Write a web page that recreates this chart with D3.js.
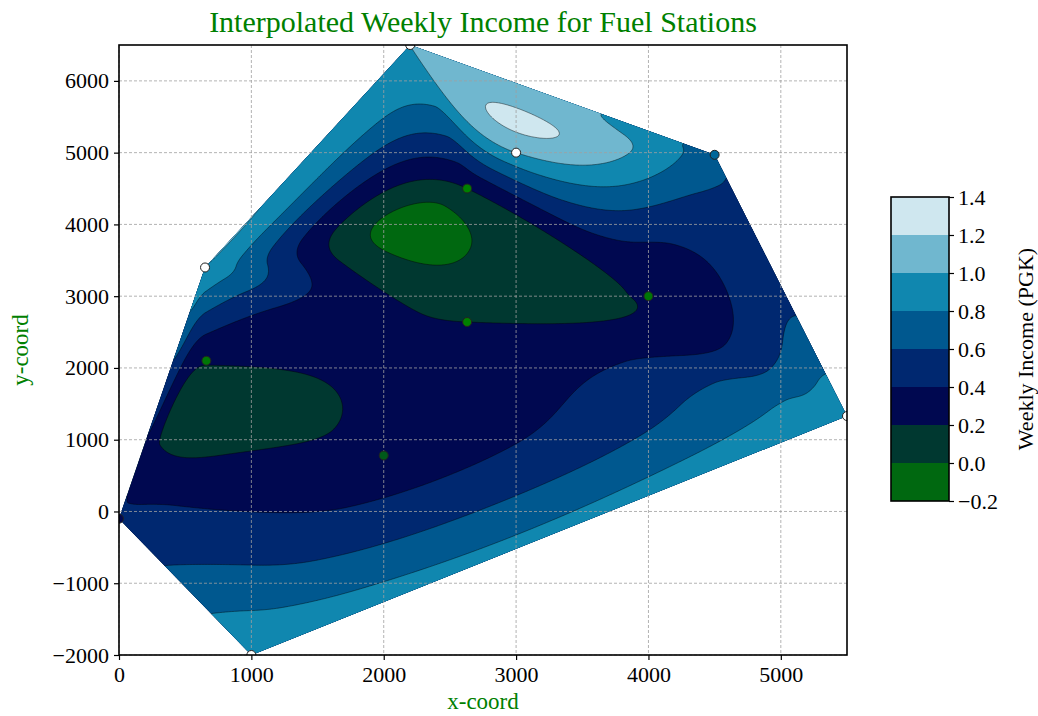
<!DOCTYPE html>
<html>
<head>
<meta charset="utf-8">
<script src="https://cdn.jsdelivr.net/npm/d3@7"></script>
<style>
  body { margin: 0; background: #fff; }
  text { font-family: "Liberation Serif", "Times New Roman", serif; }
</style>
</head>
<body>
<svg id="chart" width="1038" height="716"></svg>
<script>
// Fuel station locations and their weekly income
const stationX = [0, 1000, 650, 660, 2200, 3000, 4500, 5500, 2630, 2630, 4000, 2000];
const stationY = [-100, -2000, 3400, 2100, 6500, 5000, 4970, 1330, 4500, 2640, 3000, 780];
const stationIncome = [0.45, 1.0, 1.0, 0.22, 1.0, 1.0, 0.68, 1.0, 0.2, 0.2, 0.22, 0.28];

// Filled contour levels and axis ticks
const levels = [-0.2, 0.0, 0.2, 0.4, 0.6, 0.8, 1.0, 1.2, 1.4];
const xTicks = [0, 1000, 2000, 3000, 4000, 5000];
const yTicks = [-2000, -1000, 0, 1000, 2000, 3000, 4000, 5000, 6000];
const cbTicks = [-0.2, 0.0, 0.2, 0.4, 0.6, 0.8, 1.0, 1.2, 1.4];

const svg = d3.select("#chart");
const plot = { left: 119, right: 847, top: 45, bottom: 655 };
const x = d3.scaleLinear().domain([0, 5500]).range([plot.left, plot.right]);
const y = d3.scaleLinear().domain([-2000, 6500]).range([plot.bottom, plot.top]);
const fmtMinus = v => String(v).replace("-", "\u2212");

// "ocean" colour map
function ocean(t) {
  t = Math.max(0, Math.min(1, t));
  const c = v => Math.round(255 * Math.max(0, Math.min(1, v)));
  return `rgb(${c(3 * t - 2)},${c(Math.abs((3 * t - 1) / 2))},${c(t)})`;
}
const lvMin = levels[0], lvMax = levels[levels.length - 1];
const bandColor = i => ocean(((levels[i] + levels[i + 1]) / 2 - lvMin) / (lvMax - lvMin));

// ---------- Clough–Tocher cubic interpolation on the Delaunay triangulation ----------
const pts = stationX.map((v, i) => [v, stationY[i]]);
const vals = stationIncome;
const n = pts.length;
const delaunay = d3.Delaunay.from(pts);
const tris = delaunay.triangles, half = delaunay.halfedges;
const nTri = tris.length / 3;
const nbrs = pts.map((_, i) => Array.from(delaunay.neighbors(i)));

// global gradient estimate (minimum curvature, Gauss–Seidel sweeps)
const grad = pts.map(() => [0, 0]);
for (let it = 0; it < 400; it++) {
  let err = 0;
  for (let i = 0; i < n; i++) {
    let q0 = 0, q1 = 0, q3 = 0, s0 = 0, s1 = 0;
    for (const j of nbrs[i]) {
      const ex = pts[j][0] - pts[i][0], ey = pts[j][1] - pts[i][1];
      const L = Math.hypot(ex, ey), L3 = L * L * L;
      const df2 = -ex * grad[j][0] - ey * grad[j][1];
      const k = 6 * (vals[i] - vals[j]) - 2 * df2;
      q0 += 4 * ex * ex / L3; q1 += 4 * ex * ey / L3; q3 += 4 * ey * ey / L3;
      s0 += k * ex / L3; s1 += k * ey / L3;
    }
    const det = q0 * q3 - q1 * q1;
    const r0 = (q3 * s0 - q1 * s1) / det, r1 = (-q1 * s0 + q0 * s1) / det;
    let change = Math.max(Math.abs(grad[i][0] + r0), Math.abs(grad[i][1] + r1));
    grad[i][0] = -r0; grad[i][1] = -r1;
    change /= Math.max(1, Math.max(Math.abs(r0), Math.abs(r1)));
    err = Math.max(err, change);
  }
  if (err < 1e-6) break;
}

function bary(t, px, py) {
  const a = pts[tris[3 * t]], b = pts[tris[3 * t + 1]], c = pts[tris[3 * t + 2]];
  const det = (b[0] - a[0]) * (c[1] - a[1]) - (c[0] - a[0]) * (b[1] - a[1]);
  const l1 = ((px - a[0]) * (c[1] - a[1]) - (c[0] - a[0]) * (py - a[1])) / det;
  const l2 = ((b[0] - a[0]) * (py - a[1]) - (px - a[0]) * (b[1] - a[1])) / det;
  return [1 - l1 - l2, l1, l2];
}

const coef = [];
for (let t = 0; t < nTri; t++) {
  const v = [tris[3 * t], tris[3 * t + 1], tris[3 * t + 2]];
  const P0 = pts[v[0]], P1 = pts[v[1]], P2 = pts[v[2]];
  const e12x = P1[0] - P0[0], e12y = P1[1] - P0[1];
  const e23x = P2[0] - P1[0], e23y = P2[1] - P1[1];
  const e31x = P0[0] - P2[0], e31y = P0[1] - P2[1];
  const f1 = vals[v[0]], f2 = vals[v[1]], f3 = vals[v[2]];
  const g0 = grad[v[0]], g1 = grad[v[1]], g2 = grad[v[2]];
  const df12 = g0[0] * e12x + g0[1] * e12y;
  const df21 = -(g1[0] * e12x + g1[1] * e12y);
  const df23 = g1[0] * e23x + g1[1] * e23y;
  const df32 = -(g2[0] * e23x + g2[1] * e23y);
  const df31 = g2[0] * e31x + g2[1] * e31y;
  const df13 = -(g0[0] * e31x + g0[1] * e31y);
  const C = {};
  C.c3000 = f1; C.c2100 = (df12 + 3 * f1) / 3; C.c2010 = (df13 + 3 * f1) / 3;
  C.c0300 = f2; C.c1200 = (df21 + 3 * f2) / 3; C.c0210 = (df23 + 3 * f2) / 3;
  C.c0030 = f3; C.c1020 = (df31 + 3 * f3) / 3; C.c0120 = (df32 + 3 * f3) / 3;
  C.c2001 = (C.c2100 + C.c2010 + C.c3000) / 3;
  C.c0201 = (C.c1200 + C.c0300 + C.c0210) / 3;
  C.c0021 = (C.c1020 + C.c0120 + C.c0030) / 3;
  const g = [0, 0, 0];
  for (let k = 0; k < 3; k++) {
    const h = half[3 * t + (k + 1) % 3];
    if (h < 0) { g[k] = -0.5; continue; }
    const u = Math.floor(h / 3);
    const cx = (pts[tris[3 * u]][0] + pts[tris[3 * u + 1]][0] + pts[tris[3 * u + 2]][0]) / 3;
    const cy = (pts[tris[3 * u]][1] + pts[tris[3 * u + 1]][1] + pts[tris[3 * u + 2]][1]) / 3;
    const c = bary(t, cx, cy);
    if (k === 0) g[k] = (2 * c[2] + c[1] - 1) / (2 - 3 * c[2] - 3 * c[1]);
    else if (k === 1) g[k] = (2 * c[0] + c[2] - 1) / (2 - 3 * c[0] - 3 * c[2]);
    else g[k] = (2 * c[1] + c[0] - 1) / (2 - 3 * c[1] - 3 * c[0]);
  }
  C.c0111 = (g[0] * (-C.c0300 + 3 * C.c0210 - 3 * C.c0120 + C.c0030) + (-C.c0300 + 2 * C.c0210 - C.c0120 + C.c0021 + C.c0201)) / 2;
  C.c1011 = (g[1] * (-C.c0030 + 3 * C.c1020 - 3 * C.c2010 + C.c3000) + (-C.c0030 + 2 * C.c1020 - C.c2010 + C.c2001 + C.c0021)) / 2;
  C.c1101 = (g[2] * (-C.c3000 + 3 * C.c2100 - 3 * C.c1200 + C.c0300) + (-C.c3000 + 2 * C.c2100 - C.c1200 + C.c2001 + C.c0201)) / 2;
  C.c1002 = (C.c1101 + C.c1011 + C.c2001) / 3;
  C.c0102 = (C.c1101 + C.c0111 + C.c0201) / 3;
  C.c0012 = (C.c1011 + C.c0111 + C.c0021) / 3;
  C.c0003 = (C.c1002 + C.c0102 + C.c0012) / 3;
  coef.push(C);
}

function evalTri(t, b) {
  const C = coef[t];
  const m = Math.min(b[0], b[1], b[2]);
  const b1 = b[0] - m, b2 = b[1] - m, b3 = b[2] - m, b4 = 3 * m;
  if (b[0] === m) {
    return b2 ** 3 * C.c0300 + 3 * b2 * b2 * b3 * C.c0210 + 3 * b2 * b2 * b4 * C.c0201 +
      3 * b2 * b3 * b3 * C.c0120 + 6 * b2 * b3 * b4 * C.c0111 + 3 * b2 * b4 * b4 * C.c0102 +
      b3 ** 3 * C.c0030 + 3 * b3 * b3 * b4 * C.c0021 + 3 * b3 * b4 * b4 * C.c0012 + b4 ** 3 * C.c0003;
  } else if (b[1] === m) {
    return b1 ** 3 * C.c3000 + 3 * b1 * b1 * b3 * C.c2010 + 3 * b1 * b1 * b4 * C.c2001 +
      3 * b1 * b3 * b3 * C.c1020 + 6 * b1 * b3 * b4 * C.c1011 + 3 * b1 * b4 * b4 * C.c1002 +
      b3 ** 3 * C.c0030 + 3 * b3 * b3 * b4 * C.c0021 + 3 * b3 * b4 * b4 * C.c0012 + b4 ** 3 * C.c0003;
  }
  return b1 ** 3 * C.c3000 + 3 * b1 * b1 * b2 * C.c2100 + 3 * b1 * b1 * b4 * C.c2001 +
    3 * b1 * b2 * b2 * C.c1200 + 6 * b1 * b2 * b4 * C.c1101 + 3 * b1 * b4 * b4 * C.c1002 +
    b2 ** 3 * C.c0300 + 3 * b2 * b2 * b4 * C.c0201 + 3 * b2 * b4 * b4 * C.c0102 + b4 ** 3 * C.c0003;
}

const hull = delaunay.hullPolygon();
function nearestOnHull(px, py) {
  let best = null, bd = Infinity;
  for (let i = 0; i < hull.length; i++) {
    const a = hull[i], b = hull[(i + 1) % hull.length];
    const dx = b[0] - a[0], dy = b[1] - a[1];
    let t = ((px - a[0]) * dx + (py - a[1]) * dy) / (dx * dx + dy * dy);
    t = Math.max(0, Math.min(1, t));
    const qx = a[0] + t * dx, qy = a[1] + t * dy;
    const d = (qx - px) ** 2 + (qy - py) ** 2;
    if (d < bd) { bd = d; best = [qx, qy]; }
  }
  return best;
}
function locate(px, py) {
  let bestT = -1, bestMin = -Infinity, bestB = null;
  for (let t = 0; t < nTri; t++) {
    const b = bary(t, px, py);
    const m = Math.min(b[0], b[1], b[2]);
    if (m > bestMin) { bestMin = m; bestT = t; bestB = b; }
    if (m >= 0) break;
  }
  return [bestT, bestB, bestMin];
}
function income(px, py) {
  let [t, b, m] = locate(px, py);
  if (m < -1e-9) {
    const q = nearestOnHull(px, py);
    [t, b] = locate(q[0], q[1]);
    const s = Math.max(0, b[0]) + Math.max(0, b[1]) + Math.max(0, b[2]);
    b = b.map(v => Math.max(0, v) / s);
  }
  return evalTri(t, b);
}

// ---------- sample the surface on a pixel grid ----------
const step = 1.5, pad = 3;
const gx0 = plot.left - pad * step, gy0 = plot.top - pad * step;
const nx = Math.ceil((plot.right - plot.left) / step) + 2 * pad + 1;
const ny = Math.ceil((plot.bottom - plot.top) / step) + 2 * pad + 1;
const grid = new Float64Array(nx * ny);
for (let j = 0; j < ny; j++) {
  for (let i = 0; i < nx; i++) {
    grid[j * nx + i] = income(x.invert(gx0 + i * step), y.invert(gy0 + j * step));
  }
}
const toPixel = d3.geoTransform({
  point(cx, cy) { this.stream.point(gx0 + (cx - 0.5) * step, gy0 + (cy - 0.5) * step); }
});
const pathGen = d3.geoPath(toPixel);
const contourGen = d3.contours().size([nx, ny]).thresholds(levels.slice(1, -1));
const bands = contourGen(grid);

// ---------- drawing ----------
const defs = svg.append("defs");
const hullPath = "M" + hull.map(p => [x(p[0]), y(p[1])].join(",")).join("L") + "Z";
defs.append("clipPath").attr("id", "hull-clip").append("path").attr("d", hullPath);
defs.append("clipPath").attr("id", "plot-clip")
  .append("rect").attr("x", plot.left).attr("y", plot.top)
  .attr("width", plot.right - plot.left).attr("height", plot.bottom - plot.top);

const surface = svg.append("g").attr("clip-path", "url(#hull-clip)");
surface.append("path").attr("d", hullPath).attr("fill", bandColor(0));
surface.selectAll("path.band").data(bands).join("path")
  .attr("class", "band")
  .attr("d", d => pathGen(d))
  .attr("fill", (d, i) => bandColor(i + 1));
surface.selectAll("path.iso").data(bands).join("path")
  .attr("class", "iso")
  .attr("d", d => pathGen(d))
  .attr("fill", "none")
  .attr("stroke", "#000")
  .attr("stroke-opacity", 0.6)
  .attr("stroke-width", 0.7);

// grid lines on top of the surface
const gridG = svg.append("g")
  .attr("stroke", "#a0a0a0").attr("stroke-width", 0.8).attr("stroke-dasharray", "3,2");
gridG.selectAll("line.gx").data(xTicks).join("line")
  .attr("x1", d => x(d)).attr("x2", d => x(d)).attr("y1", plot.top).attr("y2", plot.bottom);
gridG.selectAll("line.gy").data(yTicks).join("line")
  .attr("y1", d => y(d)).attr("y2", d => y(d)).attr("x1", plot.left).attr("x2", plot.right);

// station markers
const vMin = d3.min(vals), vMax = d3.max(vals);
svg.append("g").attr("clip-path", "url(#plot-clip)")
  .selectAll("circle").data(d3.range(n)).join("circle")
  .attr("cx", i => x(stationX[i])).attr("cy", i => y(stationY[i])).attr("r", 4.5)
  .attr("fill", i => ocean((vals[i] - vMin) / (vMax - vMin)))
  .attr("stroke", "#222").attr("stroke-width", 1);

// axes
const xAxis = d3.axisBottom(x).tickValues(xTicks).tickSize(5).tickPadding(6).tickFormat(fmtMinus);
const yAxis = d3.axisLeft(y).tickValues(yTicks).tickSize(5).tickPadding(5).tickFormat(fmtMinus);
const gxA = svg.append("g").attr("transform", `translate(0,${plot.bottom})`).call(xAxis);
const gyA = svg.append("g").attr("transform", `translate(${plot.left},0)`).call(yAxis);
[gxA, gyA].forEach(g => {
  g.select(".domain").remove();
  g.selectAll("text").attr("font-size", 22).attr("fill", "#000")
    .attr("font-family", "'Liberation Serif', serif");
  g.selectAll("line").attr("stroke", "#000").attr("stroke-width", 1.2);
});

svg.append("rect").attr("x", plot.left).attr("y", plot.top)
  .attr("width", plot.right - plot.left).attr("height", plot.bottom - plot.top)
  .attr("fill", "none").attr("stroke", "#000").attr("stroke-width", 1.6);

// titles
svg.append("text").attr("x", (plot.left + plot.right) / 2).attr("y", 32)
  .attr("text-anchor", "middle").attr("font-size", 30).attr("fill", "green")
  .text("Interpolated Weekly Income for Fuel Stations");
svg.append("text").attr("x", (plot.left + plot.right) / 2).attr("y", 709)
  .attr("text-anchor", "middle").attr("font-size", 23).attr("fill", "green")
  .text("x-coord");
svg.append("text").attr("transform", `translate(28,${(plot.top + plot.bottom) / 2}) rotate(-90)`)
  .attr("text-anchor", "middle").attr("font-size", 23).attr("fill", "green")
  .text("y-coord");

// colour bar
const cb = { left: 891, right: 949, top: 197, bottom: 501 };
const cbScale = d3.scaleLinear().domain([lvMin, lvMax]).range([cb.bottom, cb.top]);
const cbG = svg.append("g");
cbG.selectAll("rect").data(d3.range(levels.length - 1)).join("rect")
  .attr("x", cb.left).attr("width", cb.right - cb.left)
  .attr("y", i => cbScale(levels[i + 1])).attr("height", i => cbScale(levels[i]) - cbScale(levels[i + 1]))
  .attr("fill", i => bandColor(i)).attr("shape-rendering", "crispEdges");
cbG.append("rect").attr("x", cb.left).attr("y", cb.top)
  .attr("width", cb.right - cb.left).attr("height", cb.bottom - cb.top)
  .attr("fill", "none").attr("stroke", "#000").attr("stroke-width", 1.6);
const cbAxis = d3.axisRight(cbScale).tickValues(cbTicks).tickSize(5).tickPadding(4)
  .tickFormat(v => fmtMinus(v.toFixed(1)));
const cbA = svg.append("g").attr("transform", `translate(${cb.right},0)`).call(cbAxis);
cbA.select(".domain").remove();
cbA.selectAll("text").attr("font-size", 22).attr("fill", "#000")
  .attr("font-family", "'Liberation Serif', serif");
cbA.selectAll("line").attr("stroke", "#000").attr("stroke-width", 1.2);
svg.append("text").attr("transform", `translate(1033,${(cb.top + cb.bottom) / 2}) rotate(-90)`)
  .attr("text-anchor", "middle").attr("font-size", 22).attr("fill", "#000")
  .text("Weekly Income (PGK)");
</script>
</body>
</html>
